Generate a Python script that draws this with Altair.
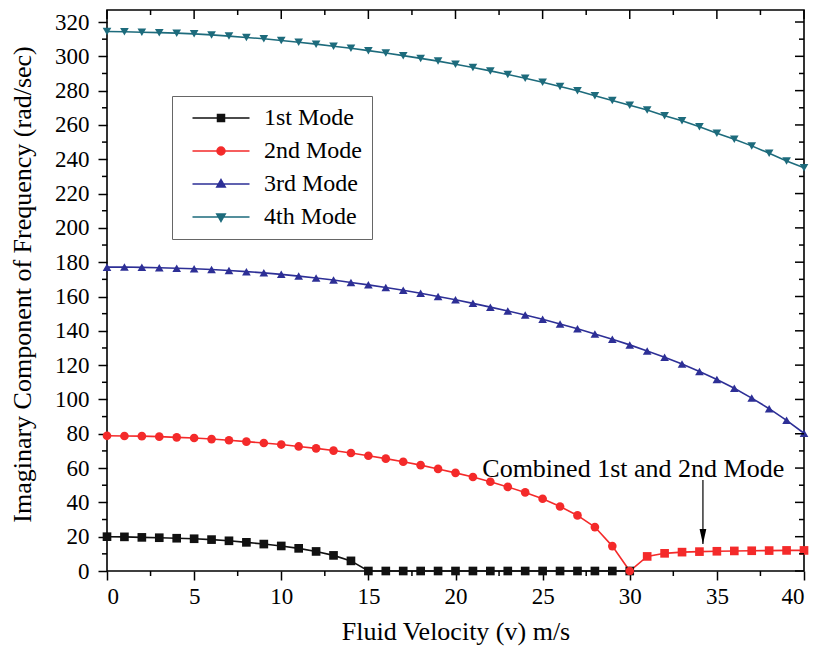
import altair as alt
import pandas as pd

# ---------------- data ----------------
velocity = list(range(41))

# 1st mode, v = 0..30 (drops to zero at v = 15)
mode1 = [20.0, 19.9, 19.6, 19.4, 19.1, 18.8, 18.3, 17.6, 16.7, 15.7,
         14.6, 13.2, 11.4, 9.1, 5.9, 0.0, 0.0, 0.0, 0.0, 0.0,
         0.0, 0.0, 0.0, 0.0, 0.0, 0.0, 0.0, 0.0, 0.0, 0.0, 0.0]
# 2nd mode, v = 0..40 (v >= 31 : combined 1st and 2nd mode)
mode2 = [78.8, 78.7, 78.6, 78.3, 77.9, 77.5, 76.9, 76.2, 75.4, 74.6,
         73.7, 72.6, 71.5, 70.2, 68.8, 67.2, 65.5, 63.7, 61.7, 59.5,
         57.2, 54.8, 52.0, 49.0, 45.8, 42.1, 37.6, 32.4, 25.6, 14.5,
         0.0, 8.5, 10.3, 11.0, 11.3, 11.5, 11.7, 11.8, 11.9, 12.0, 12.0]
mode3 = [177.1, 177.2, 177.0, 176.8, 176.5, 176.2, 175.7, 175.2, 174.5, 173.8,
         172.9, 171.9, 170.8, 169.6, 168.2, 166.8, 165.2, 163.6, 161.9, 160.0,
         158.1, 156.0, 153.8, 151.6, 149.2, 146.7, 144.0, 141.2, 138.2, 135.1,
         131.8, 128.3, 124.6, 120.6, 116.3, 111.6, 106.5, 100.8, 94.6, 87.8, 80.3]
mode4 = [314.5, 314.3, 314.0, 313.8, 313.5, 313.1, 312.5, 311.8, 311.0, 310.2,
         309.2, 308.2, 307.1, 305.9, 304.7, 303.3, 301.9, 300.4, 298.8, 297.2,
         295.4, 293.5, 291.5, 289.4, 287.2, 284.9, 282.4, 279.9, 277.0, 274.3,
         271.5, 268.7, 265.4, 262.4, 258.9, 255.2, 251.7, 247.8, 243.5, 239.0, 235.1]

series_names = ["1st Mode", "2nd Mode", "3rd Mode", "4th Mode"]
series_colors = ["#111111", "#f42a2a", "#2d2f96", "#1d6b7c"]
marker_shapes = ["square", "circle", "triangle-up", "triangle-down"]
combined_start = 31          # 2nd-mode points from here are drawn as squares

x_major = [0, 5, 10, 15, 20, 25, 30, 35, 40]
x_minor = [2.5, 7.5, 12.5, 17.5, 22.5, 27.5, 32.5, 37.5]
y_major = [0, 20, 40, 60, 80, 100, 120, 140, 160, 180, 200, 220, 240, 260, 280, 300, 320]
y_minor = [10, 30, 50, 70, 90, 110, 130, 150, 170, 190, 210, 230, 250, 270, 290, 310]

annotation_text = ["Combined 1st and 2nd Mode"]
annotation_x = [30.2]
annotation_y = [55.0]
arrow_x = [34.2]
arrow_top = [53.0]
arrow_tip = [15.8]

# ---------------- tables ----------------
rows = []
for name, vals, shp in zip(series_names, [mode1, mode2, mode3, mode4], marker_shapes):
    for v, val in zip(velocity, vals):
        marker = "square" if (name == "2nd Mode" and v >= combined_start) else shp
        rows.append({"v": v, "val": val, "series": name, "marker": marker})
df = pd.DataFrame(rows)

legend_df = pd.DataFrame({"series": series_names, "lx": [-10] * 4, "ly": [-10] * 4})
ann_df = pd.DataFrame({"x": annotation_x, "y": annotation_y, "text": annotation_text})
arrow_df = pd.DataFrame({"x": arrow_x, "top": arrow_top, "tip": arrow_tip})
xmaj_df = pd.DataFrame({"t": x_major})
xmin_df = pd.DataFrame({"t": x_minor})
ymaj_df = pd.DataFrame({"t": y_major})
ymin_df = pd.DataFrame({"t": y_minor})

W, H = 697, 561
FONT = "Liberation Serif"
MAJ, MIN = 9, 5

xs = alt.Scale(domain=[0, 40], nice=False, zero=False)
ys = alt.Scale(domain=[0, 327], nice=False, zero=False)

x_axis = alt.Axis(
    values=x_major, tickSize=MAJ, labelPadding=5,
    labelFont=FONT, titleFont=FONT,
    title="Fluid Velocity (v) m/s",
    titleX=W / 2, titleY=60, titleBaseline="middle", titleAlign="center",
)
y_axis = alt.Axis(
    values=y_major, tickSize=MAJ, labelPadding=9,
    labelFont=FONT, titleFont=FONT,
    title="Imaginary Component of  Frequency (rad/sec)",
    titleX=-85, titleY=274, titleAngle=-90, titleBaseline="middle", titleAlign="center",
)


def X(field):
    return alt.X(field, type="quantitative", scale=xs, axis=x_axis)


def Y(field):
    return alt.Y(field, type="quantitative", scale=ys, axis=y_axis)


# colour scale for the data marks
color_scale = alt.Scale(range=series_colors)

lines = alt.Chart(df).mark_line(strokeWidth=1.6).encode(
    x=X("v"), y=Y("val"),
    color=alt.Color("series:N", scale=color_scale, legend=None),
)

points = alt.Chart(df).mark_point(filled=True, opacity=1, size=75).encode(
    x=X("v"), y=Y("val"),
    color=alt.Color("series:N", scale=color_scale, legend=None),
    shape=alt.Shape("marker:N", scale=None, legend=None),
)

# legend symbols: line + marker as custom paths
legend_paths = [
    "M-5.7,0H5.7M-0.7,-0.7H0.7V0.7H-0.7Z",
    "M-5.7,0H5.7M0.8,0A0.8,0.8,0,1,1,-0.8,0A0.8,0.8,0,1,1,0.8,0Z",
    "M-5.7,0H5.7M0,-0.9L0.85,0.6L-0.85,0.6Z",
    "M-5.7,0H5.7M0,0.9L0.85,-0.6L-0.85,-0.6Z",
]
leg = alt.Legend(
    title=None, orient="none", legendX=65, legendY=86,
    labelFont=FONT, labelFontSize=24, labelColor="black",
    symbolSize=100, symbolStrokeWidth=1.5, symbolOffset=27, labelOffset=31,
    rowPadding=9, padding=10, strokeColor="#666666", fillColor="white",
)
leg_color_scale = alt.Scale(domain=series_names, range=series_colors)
legend_layer = alt.Chart(legend_df).mark_point(filled=True, opacity=1, clip=True, size=100, strokeWidth=1.5).encode(
    x=X("lx"), y=Y("ly"),
    fill=alt.Fill("series:N", scale=leg_color_scale, legend=leg),
    stroke=alt.Stroke("series:N", scale=leg_color_scale, legend=leg),
    shape=alt.Shape("series:N", scale=alt.Scale(domain=series_names, range=legend_paths), legend=leg),
)

ann = alt.Chart(ann_df).mark_text(font=FONT, fontSize=26, align="center", baseline="alphabetic", color="black").encode(
    x=X("x"), y=Y("y"), text="text:N")
arrow_line = alt.Chart(arrow_df).mark_rule(color="black", strokeWidth=1.2).encode(
    x=X("x"), y=Y("top"), y2="tip:Q")
arrow_head = alt.Chart(arrow_df).mark_point(filled=True, opacity=1, color="black", size=225,
                                            shape="M-0.45,-2L0.45,-2L0,0Z").encode(
    x=X("x"), y=Y("tip"))


# extra ticks: minor outward on bottom/left, mirrored inward on top/right
def x_ticks(d, y0, y1):
    return alt.Chart(d).mark_rule(color="black", strokeWidth=1.5).encode(
        x=X("t"), y=alt.value(y0), y2=alt.value(y1))


def y_ticks(d, x0, x1):
    return alt.Chart(d).mark_rule(color="black", strokeWidth=1.5).encode(
        y=Y("t"), x=alt.value(x0), x2=alt.value(x1))


chart = alt.layer(
    lines, points, legend_layer, arrow_line, arrow_head, ann,
    x_ticks(xmin_df, H, H + MIN),
    x_ticks(xmaj_df, 0, MAJ), x_ticks(xmin_df, 0, MIN),
    y_ticks(ymin_df, 0, -MIN),
    y_ticks(ymaj_df, W, W - MAJ), y_ticks(ymin_df, W, W - MIN),
).resolve_scale(
    shape="independent", fill="independent", stroke="independent"
).properties(
    width=W, height=H,
    autosize=alt.AutoSizeParams(type="none"),
    padding={"left": 99, "top": 2, "right": 11, "bottom": 80},
).configure_view(
    stroke="black", strokeWidth=1.6
).configure_axis(
    domain=False, grid=False, tickColor="black", tickWidth=1.5,
    labelFont=FONT, labelFontSize=23, labelColor="black",
    titleFont=FONT, titleFontSize=26, titleFontWeight="normal", titleColor="black",
)

chart.save("out.html", embed_options={"renderer": "svg", "actions": False})
